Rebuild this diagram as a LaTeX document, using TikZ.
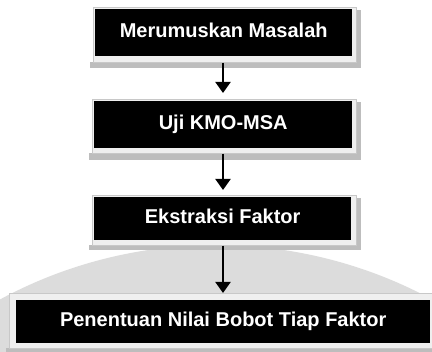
\documentclass[tikz,border=0pt]{standalone}
\usepackage{fontspec}
\setmainfont{Liberation Sans}
\usetikzlibrary{arrows.meta,calc}
\definecolor{framegray}{HTML}{EFEFEF}
\definecolor{edgegray}{HTML}{C8C8C8}
\definecolor{shadowgray}{HTML}{BDBDBD}
\definecolor{wmgray}{HTML}{DCDCDC}
\begin{document}
\begin{tikzpicture}[x=1pt,y=-1pt,
  blk/.style={fill=black,text=white,font=\bfseries\fontsize{20}{24}\selectfont,
    inner sep=0pt,anchor=north west,text height=14pt,text depth=4pt},
  frm/.style={fill=framegray,draw=edgegray,line width=0.6pt,inner sep=0pt,anchor=north west},
  shd/.style={fill=shadowgray},
  arr/.style={line width=2pt,-{Triangle[width=15pt,length=11pt]}}]
\useasboundingbox (0,0) rectangle (432,352);
\clip (0,0) rectangle (432,352);
% faint watermark background
\fill[wmgray] (216,700) circle (455);
% shadows
\fill[shd] (90,62) rectangle (361,68);
\fill[shd] (356,10) rectangle (361,68);
\fill[shd] (89,153) rectangle (361,160);
\fill[shd] (356,102) rectangle (361,160);
\fill[shd] (89,245) rectangle (361,250);
\fill[shd] (356,198) rectangle (361,250);
\fill[shd] (6,348) rectangle (432,352);
% frames
\node[frm,minimum width=263pt,minimum height=55pt] (f1) at (93,7) {};
\node[frm,minimum width=264pt,minimum height=54pt] (f2) at (92,99) {};
\node[frm,minimum width=264pt,minimum height=50pt] (f3) at (92,195) {};
\node[frm,minimum width=430pt,minimum height=55pt] (f4) at (9,293) {};
% black boxes
\node[blk,minimum width=257pt,minimum height=47pt] (b1) at (95,9) {Merumuskan Masalah};
\node[blk,minimum width=258pt,minimum height=47pt] (b2) at (94,101) {Uji KMO-MSA};
\node[blk,minimum width=257pt,minimum height=43pt] (b3) at (94,197) {Ekstraksi Faktor};
\node[blk,minimum width=414pt,minimum height=43pt] (b4) at (16,300) {Penentuan Nilai Bobot Tiap Faktor};
% connectors
\coordinate (ax) at (223,0);
\draw[arr,shorten >=6pt] (f1.south -| ax) -- (f2.north -| ax);
\draw[arr,shorten >=5pt] (f2.south -| ax) -- (f3.north -| ax);
\draw[arr] (f3.south -| ax) -- (f4.north -| ax);
\end{tikzpicture}
\end{document}
